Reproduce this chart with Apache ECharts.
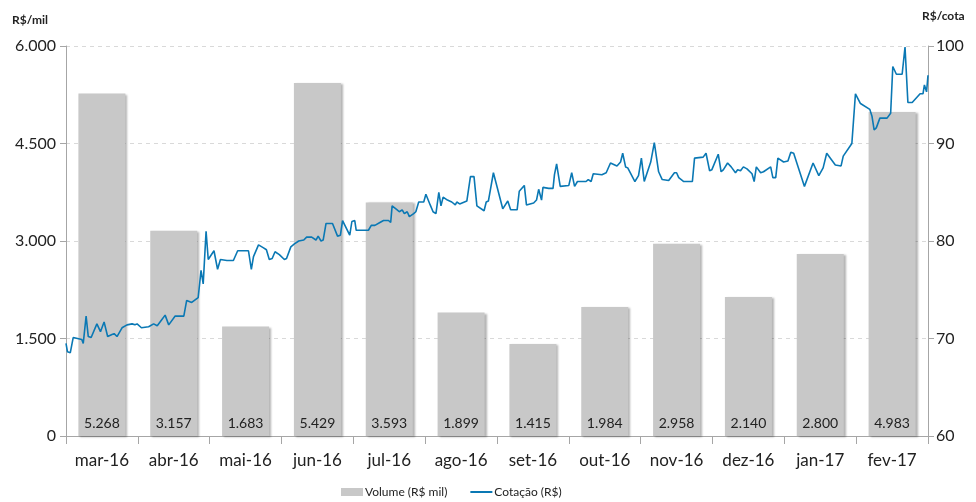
<!DOCTYPE html>
<html>
<head>
<meta charset="utf-8">
<script src="https://cdn.jsdelivr.net/npm/echarts@6/dist/echarts.min.js"></script>
<style>
  html, body { margin: 0; padding: 0; background: #fff; }
  #chart { width: 976px; height: 502px; }
</style>
</head>
<body>
<div id="chart"></div>
<script>
// meses e volume negociado (R$ mil)
var meses = ['mar-16', 'abr-16', 'mai-16', 'jun-16', 'jul-16', 'ago-16', 'set-16', 'out-16', 'nov-16', 'dez-16', 'jan-17', 'fev-17'];
var volume = [5268, 3157, 1683, 5429, 3593, 1899, 1415, 1984, 2958, 2140, 2800, 4983];

// cotação diária: posição no eixo (em meses desde mar-16) e valor (R$)
var posicao = [
  0.00, 0.02, 0.06, 0.10, 0.16, 0.22, 0.24, 0.28, 0.31, 0.35, 0.43, 0.48, 0.53, 0.58, 0.64, 0.67, 0.71, 0.78, 0.85, 0.92,
  0.96, 0.99, 1.05, 1.15, 1.22, 1.27, 1.33, 1.38, 1.43, 1.52, 1.64, 1.68, 1.75, 1.84, 1.88, 1.91, 1.95, 1.98, 2.06, 2.11,
  2.15, 2.24, 2.33, 2.35, 2.39, 2.54, 2.58, 2.61, 2.68, 2.75, 2.79, 2.83, 2.87, 2.91, 2.97, 3.04, 3.07, 3.13, 3.18, 3.24,
  3.31, 3.35, 3.42, 3.48, 3.51, 3.55, 3.58, 3.62, 3.71, 3.78, 3.82, 3.85, 3.95, 3.98, 4.02, 4.04, 4.21, 4.25, 4.30, 4.37,
  4.42, 4.49, 4.52, 4.54, 4.61, 4.64, 4.68, 4.71, 4.75, 4.78, 4.84, 4.87, 4.91, 4.98, 5.01, 5.07, 5.11, 5.15, 5.19, 5.22,
  5.25, 5.31, 5.37, 5.42, 5.44, 5.48, 5.58, 5.63, 5.68, 5.72, 5.82, 5.85, 5.88, 5.95, 6.08, 6.15, 6.19, 6.28, 6.31, 6.38,
  6.41, 6.51, 6.55, 6.58, 6.62, 6.64, 6.72, 6.78, 6.80, 6.83, 6.88, 7.00, 7.04, 7.08, 7.09, 7.12, 7.24, 7.27, 7.31, 7.34,
  7.46, 7.52, 7.58, 7.67, 7.72, 7.75, 7.79, 7.82, 7.92, 7.97, 8.01, 8.05, 8.09, 8.14, 8.19, 8.25, 8.30, 8.39, 8.47, 8.50,
  8.53, 8.60, 8.72, 8.75, 8.87, 8.91, 8.96, 8.99, 9.08, 9.12, 9.15, 9.21, 9.26, 9.32, 9.35, 9.39, 9.43, 9.48, 9.55, 9.58,
  9.61, 9.67, 9.71, 9.81, 9.84, 9.88, 9.91, 9.99, 10.05, 10.09, 10.13, 10.28, 10.40, 10.48, 10.54, 10.59, 10.71, 10.79, 10.82, 10.94,
  10.99, 11.01, 11.06, 11.19, 11.22, 11.25, 11.28, 11.33, 11.43, 11.48, 11.51, 11.56, 11.64, 11.68, 11.72, 11.78, 11.89, 11.93, 11.95, 11.98,
  12.00
];
var cotacao = [
  69.5, 68.65, 68.55, 70.1, 70.0, 69.9, 69.5, 72.3, 70.2, 70.1, 71.5, 70.7, 71.7, 70.2, 70.4, 70.5, 70.2, 71.1, 71.4, 71.5,
  71.4, 71.5, 71.1, 71.2, 71.5, 71.3, 71.9, 72.4, 71.4, 72.3, 72.3, 73.9, 73.7, 74.2, 77.0, 75.6, 81.0, 78.1, 79.0, 77.1,
  78.1, 78.0, 78.0, 77.9, 79.0, 79.0, 77.1, 78.4, 79.6, 79.3, 79.1, 78.1, 78.2, 78.9, 78.6, 78.1, 78.2, 79.4, 79.7, 80.0,
  80.1, 80.4, 80.4, 80.1, 80.5, 80.0, 80.1, 81.8, 81.8, 80.5, 80.6, 82.1, 80.6, 82.0, 82.1, 81.1, 81.1, 81.6, 81.6, 81.9,
  82.1, 82.1, 81.9, 83.6, 83.2, 83.0, 83.2, 82.8, 83.0, 82.5, 82.8, 83.0, 84.0, 84.0, 84.8, 83.7, 83.0, 82.8, 85.0, 83.6,
  84.5, 84.2, 84.0, 83.7, 84.0, 83.8, 84.1, 86.6, 86.6, 83.6, 83.1, 84.0, 84.1, 87.0, 83.3, 84.1, 83.2, 83.2, 85.1, 85.7,
  83.7, 83.9, 84.2, 85.3, 84.2, 85.5, 85.4, 85.4, 86.8, 87.9, 85.6, 85.7, 87.0, 85.6, 85.8, 86.1, 86.1, 86.3, 86.1, 86.9,
  86.8, 87.0, 88.0, 87.7, 88.1, 89.0, 87.6, 87.5, 86.1, 86.7, 88.5, 86.1, 87.0, 88.1, 90.1, 87.1, 86.3, 86.2, 87.0, 87.0,
  86.5, 86.1, 86.1, 88.5, 88.6, 89.0, 87.2, 87.3, 88.9, 87.1, 87.3, 88.0, 87.6, 87.0, 87.3, 87.2, 87.6, 87.4, 86.9, 86.1,
  87.6, 87.0, 87.1, 87.6, 86.5, 86.5, 88.5, 88.1, 88.2, 89.1, 89.0, 85.6, 88.0, 86.7, 87.5, 89.0, 87.8, 87.7, 88.7, 90.0,
  95.1, 95.1, 94.1, 93.5, 92.8, 91.4, 91.6, 92.6, 92.6, 93.1, 97.9, 97.1, 97.1, 99.9, 94.2, 94.2, 95.1, 95.1, 96.0, 95.3,
  97.0
];

var serieCotacao = posicao.map(function (p, i) { return [p, cotacao[i]]; });

function milhar(v) {
  return String(v).replace(/\B(?=(\d{3})+(?!\d))/g, '.');
}

var fonte = 'Lato, "Open Sans", sans-serif';
var chart = echarts.init(document.getElementById('chart'));

var option = {
  animation: false,
  textStyle: { fontFamily: fonte },
  grid: { left: 66, right: 48, top: 46, bottom: 66 },
  legend: {
    top: 481,
    left: 336,
    itemWidth: 22,
    itemHeight: 8,
    itemGap: 22,
    textStyle: { fontSize: 12, color: '#222', fontFamily: fonte, padding: [0, 0, 0, -3] },
    data: [
      { name: 'Volume (R$ mil)', icon: 'rect' },
      { name: 'Cotação (R$)', itemStyle: { opacity: 0 } }
    ]
  },
  xAxis: [
    {
      type: 'category',
      data: meses,
      axisLine: { lineStyle: { color: '#a6a6a6' } },
      axisTick: { show: true, length: 8, lineStyle: { color: '#a6a6a6' } },
      axisLabel: { fontSize: 17, color: '#222', margin: 16 }
    },
    {
      type: 'value',
      min: 0,
      max: 12,
      show: false
    }
  ],
  yAxis: [
    {
      type: 'value',
      name: 'R$/mil',
      nameLocation: 'end',
      nameGap: 20,
      nameTextStyle: { fontWeight: 'bold', fontSize: 12, color: '#222', align: 'right', padding: [0, 18, 0, 0] },
      min: 0,
      max: 6000,
      interval: 1500,
      axisLine: { show: true, lineStyle: { color: '#a6a6a6' } },
      axisTick: { show: true, length: 6, lineStyle: { color: '#a6a6a6' } },
      axisLabel: { fontSize: 16, color: '#222', margin: 10, formatter: milhar },
      splitLine: { lineStyle: { color: '#d9d9d9', type: [4, 4] } }
    },
    {
      type: 'value',
      name: 'R$/cota',
      nameLocation: 'end',
      nameGap: 24,
      nameTextStyle: { fontWeight: 'bold', fontSize: 12, color: '#222', align: 'left', padding: [0, 0, 0, -6] },
      min: 60,
      max: 100,
      interval: 10,
      position: 'right',
      axisLine: { show: true, lineStyle: { color: '#a6a6a6' } },
      axisTick: { show: true, length: 6, lineStyle: { color: '#a6a6a6' } },
      axisLabel: { fontSize: 16, color: '#222', margin: 8 },
      splitLine: { show: false }
    }
  ],
  series: [
    {
      name: 'Volume (R$ mil)',
      type: 'bar',
      data: volume,
      barWidth: 47,
      itemStyle: {
        color: '#c8c8c8',
        shadowColor: 'rgba(0,0,0,0.3)',
        shadowBlur: 2,
        shadowOffsetX: 2,
        shadowOffsetY: 1
      },
      label: {
        show: true,
        position: 'insideBottom',
        distance: 6,
        fontSize: 14,
        color: '#222',
        formatter: function (p) { return milhar(p.value); }
      }
    },
    {
      name: 'Cotação (R$)',
      type: 'line',
      xAxisIndex: 1,
      yAxisIndex: 1,
      data: serieCotacao,
      symbol: 'none',
      lineStyle: { color: '#0a78b4', width: 1.6 },
      itemStyle: { color: '#0a78b4' },
      z: 5
    }
  ]
};
chart.setOption(option);
</script>
</body>
</html>
